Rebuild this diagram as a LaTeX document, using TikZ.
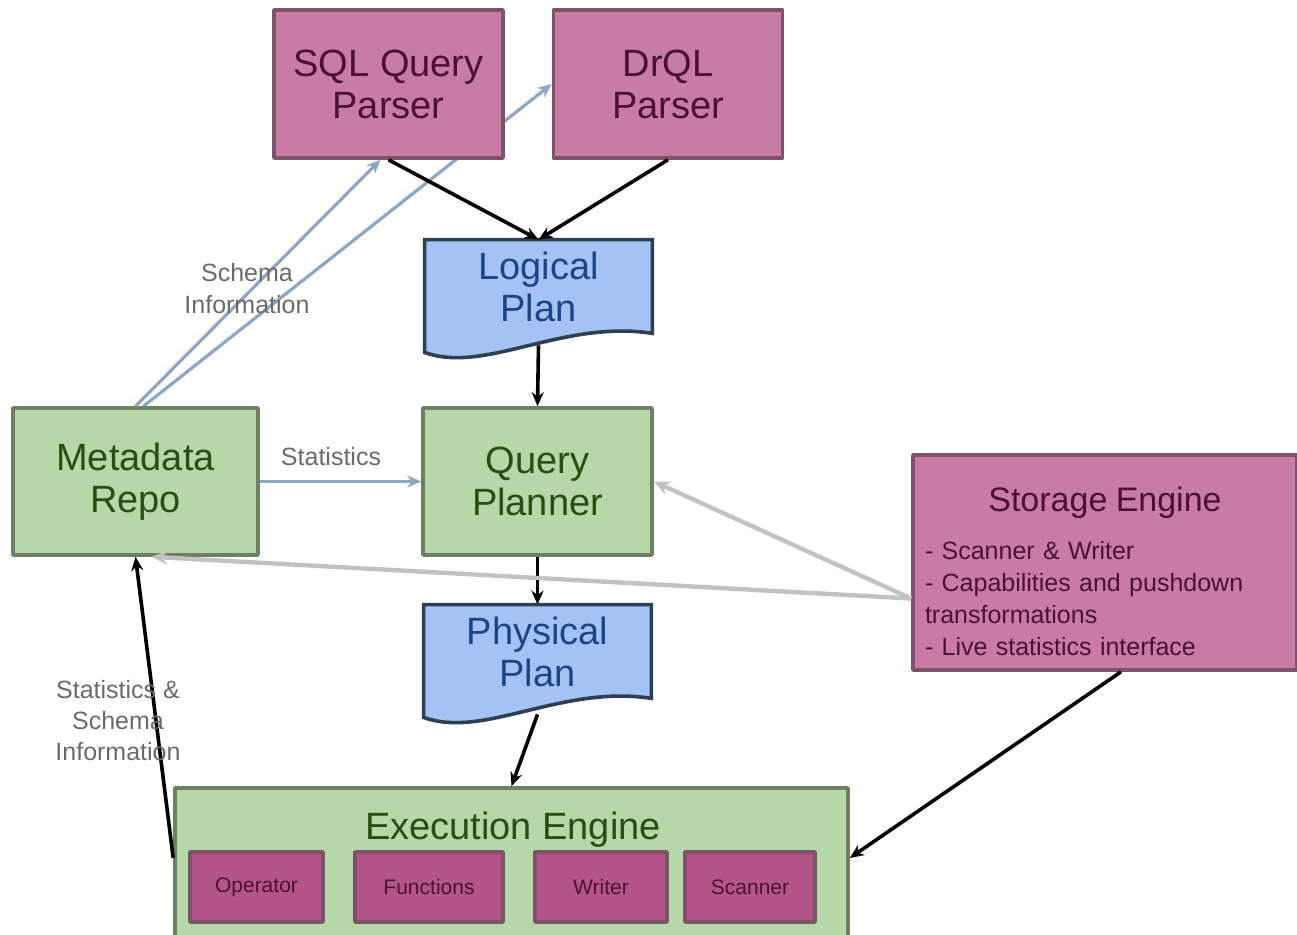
\documentclass[tikz,border=0pt]{standalone}
\usepackage{fontspec}
\setmainfont{Liberation Sans}
\usetikzlibrary{arrows.meta,backgrounds}
\definecolor{pinkfill}{HTML}{C87BA3}
\definecolor{pinkline}{HTML}{7E5369}
\definecolor{pinktext}{HTML}{4C1130}
\definecolor{subpink}{HTML}{B4558A}
\definecolor{greenfill}{HTML}{B6D7A8}
\definecolor{greenline}{HTML}{6E7F66}
\definecolor{greentext}{HTML}{274E13}
\definecolor{bluefill}{HTML}{A4C2F4}
\definecolor{blueline}{HTML}{2E3F52}
\definecolor{bluetext}{HTML}{1C4587}
\definecolor{metaline}{HTML}{8CA7C6}
\definecolor{storeline}{HTML}{C2C2C2}
\definecolor{labelgray}{HTML}{6A6A6A}
\newcommand\plandoc[1]{\draw[draw=blueline,line width=1.8pt,fill=bluefill] (#1.north west)--(#1.north east)--(#1.south east) .. controls +(-90,-14) and +(60,22) .. ([yshift=-9.5pt]#1.south west)--cycle;}
\begin{document}
\begin{tikzpicture}[x=0.5pt,y=-0.5pt,>={Stealth[length=7pt,width=6pt]},line join=round,
	pinkbox/.style={draw=pinkline,line width=1.8pt,fill=pinkfill,text=pinktext,align=center,font=\fontsize{19}{21}\selectfont,minimum width=114.5pt,minimum height=74pt,inner sep=0pt},
	greenbox/.style={draw=greenline,line width=1.8pt,fill=greenfill,text=greentext,align=center,font=\fontsize{19}{21}\selectfont,minimum height=73.5pt,inner sep=0pt},
	planbox/.style={text=bluetext,align=center,font=\fontsize{19}{21}\selectfont,minimum width=113.5pt,minimum height=46.5pt,inner sep=0pt},
	subbox/.style={draw=pinkline,line width=1.8pt,fill=subpink,text=pinktext,font=\fontsize{10.5}{12}\selectfont,minimum height=35pt,inner sep=0pt},
	blackflow/.style={->,line width=1.8pt},
	metaflow/.style={->,draw=metaline,line width=1.6pt},
	storeflow/.style={-{Stealth[open,length=8pt,width=7pt]},draw=storeline,line width=2.2pt},
	notelabel/.style={text=labelgray,align=center,font=\fontsize{12.5}{16}\selectfont}]
	\useasboundingbox (0,0) rectangle (1297,935);
	\node[pinkbox] (sql) at (388.5,84) {SQL Query\\Parser};
	\node[pinkbox] (drql) at (668,84) {DrQL\\Parser};
	\node[planbox] (logical) at (538.5,286.5) {Logical\\Plan};
	\node[greenbox,minimum width=122.5pt] (mdrepo) at (135.5,481.5) {Metadata\\Repo};
	\node[greenbox,minimum width=114.5pt] (planner) at (537.5,481.5) {Query\\Planner};
	\node[planbox] (physical) at (537.5,651.5) {Physical\\Plan};
	\node[draw=pinkline,line width=1.8pt,fill=pinkfill,text=pinktext,minimum width=192pt,minimum height=107.5pt,text width=180pt,align=left,inner sep=0pt,font=\fontsize{12.5}{16}\selectfont] (storage) at (1105,562.5)
		{{\centering\fontsize{17}{20}\selectfont\rule{0pt}{21pt}Storage Engine\par}\vspace{8pt}- Scanner \& Writer\\- Capabilities and pushdown\\transformations\\- Live statistics interface};
	\node[draw=greenline,line width=1.8pt,fill=greenfill,minimum width=336.5pt,minimum height=76pt] (exec) at (511.5,864) {};
	\node[text=greentext,font=\fontsize{19}{21}\selectfont] (exectitle) at (513,830) {Execution Engine};
	\node[subbox,minimum width=66.5pt] (operator) at (256.5,887) {Operator};
	\node[subbox,minimum width=74pt] (functions) at (429,887) {Functions};
	\node[subbox,minimum width=66pt] (writer) at (601,887) {Writer};
	\node[subbox,minimum width=65pt] (scanner) at (750,887) {Scanner};
	\begin{scope}[on background layer]
		\plandoc{logical}
		\plandoc{physical}
		\draw[metaflow] ([xshift=4pt]mdrepo.north)--(drql.west);
	\end{scope}
	\draw[blackflow] (sql.south)--(logical.north);
	\draw[blackflow] (drql.south)--(logical.north);
	\draw[blackflow] ([yshift=-6pt]logical.south)--(planner.north);
	\draw[blackflow] (planner.south)--(physical.north);
	\draw[blackflow] ([yshift=-8pt]physical.south)--(exec.north);
	\draw[blackflow] ([xshift=8pt]storage.south)--([yshift=3pt]exec.east);
	\draw[blackflow] ([yshift=3pt]exec.west)--(mdrepo.south);
	\draw[metaflow] (mdrepo.east)--(planner.west);
	\draw[metaflow] (mdrepo.north)--([xshift=-4pt]sql.south);
	\draw[storeflow] ([yshift=-18pt]storage.west)--(planner.east);
	\draw[storeflow] ([yshift=-18pt]storage.west)--([xshift=8pt]mdrepo.south);
	\node[notelabel] (schemanote) at (247,289) {Schema\\Information};
	\node[notelabel] (statnote) at (331,457) {Statistics};
	\node[notelabel,font=\fontsize{12.5}{15.5}\selectfont] (bothnote) at (118,721) {Statistics \&\\Schema\\Information};
\end{tikzpicture}
\end{document}
